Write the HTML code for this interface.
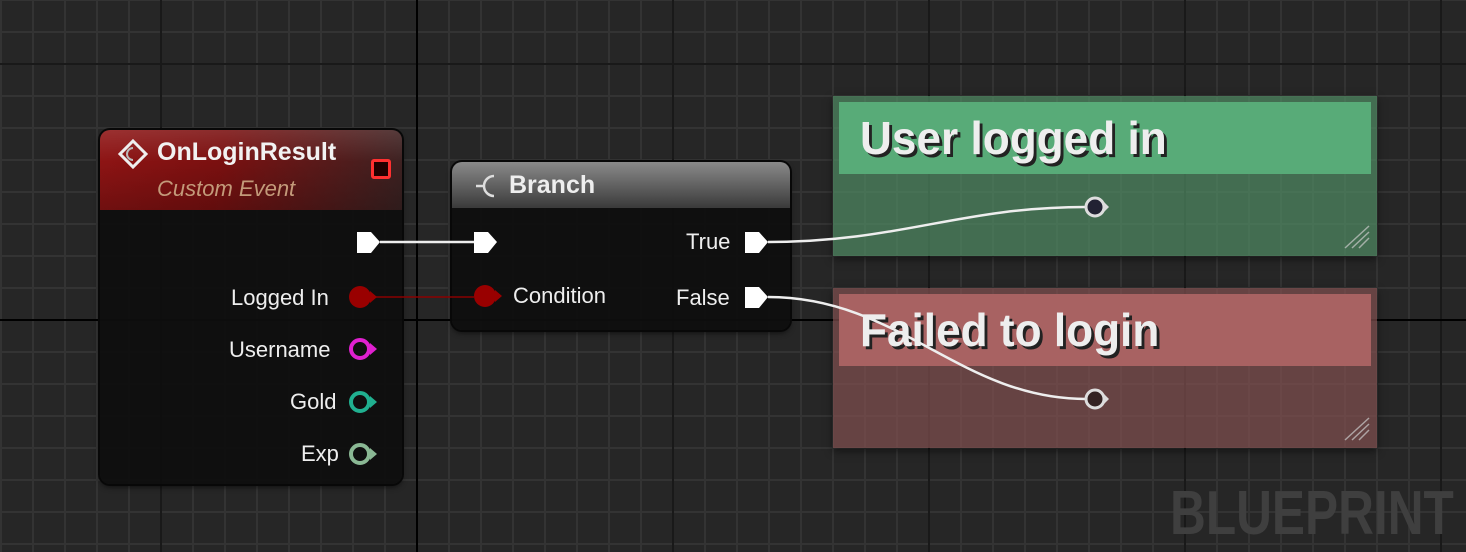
<!DOCTYPE html>
<html><head><meta charset="utf-8"><style>
body{margin:0;width:1466px;height:552px;overflow:hidden;background:#262626;font-family:"Liberation Sans",sans-serif;position:relative}
.grid{position:absolute;inset:0;
background-image:
linear-gradient(to right,#000 0 2px,transparent 2px),
linear-gradient(to bottom,#000 0 2px,transparent 2px),
linear-gradient(to right,#191919 0 2px,transparent 2px),
linear-gradient(to bottom,#191919 0 2px,transparent 2px),
linear-gradient(to right,#333 0 2px,transparent 2px),
linear-gradient(to bottom,#333 0 2px,transparent 2px);
background-size:2px 100%,100% 2px,256px 100%,100% 256px,32px 100%,100% 32px;
background-repeat:no-repeat,no-repeat,repeat-x,repeat-y,repeat-x,repeat-y;
background-position:416px 0,0 319px,160px 0,0 63px,0 0,0 31px}
.abs{position:absolute}
.node{position:absolute;background:rgba(14,14,14,.93);border-radius:10px;box-shadow:0 0 0 2px #080808,0 3px 6px rgba(0,0,0,.6)}
.lbl{position:absolute;color:#eee;font-size:22px;white-space:nowrap}
.cm{position:absolute}
.cm .t{position:absolute;left:6px;right:6px;top:6px;height:72px;font-weight:bold;font-size:46px;color:#eee;text-shadow:3px 3px 0 #222;padding-left:21px;line-height:72px;box-sizing:border-box}
.cm .t span{display:inline-block;transform:scaleX(.96);transform-origin:left}
</style></head><body>
<div class="grid"></div>

<div class="cm" style="left:833px;top:96px;width:544px;height:160px;background:rgba(80,140,100,.7);box-shadow:0 3px 8px rgba(0,0,0,.5)">
 <div class="t" style="background:#58ab78"><span>User logged in</span></div>
</div>
<div class="cm" style="left:833px;top:288px;width:544px;height:160px;background:rgba(130,80,80,.7);box-shadow:0 3px 8px rgba(0,0,0,.5)">
 <div class="t" style="background:#a86262"><span>Failed to login</span></div>
</div>

<div class="node" style="left:100px;top:130px;width:302px;height:354px;overflow:hidden">
 <div class="abs" style="left:0;top:0;width:302px;height:80px;background:linear-gradient(100deg,#8e1414 0%,#7a1010 40%,#3a2222 100%)"></div>
 <div class="abs" style="left:0;top:0;width:302px;height:80px;background:linear-gradient(to bottom,rgba(255,255,255,.12),transparent 40%,rgba(0,0,0,.2))"></div>
 <div class="lbl" style="left:57px;top:8px;font-weight:bold;font-size:25px;color:#f2f2f2">OnLoginResult</div>
 <div class="lbl" style="left:57px;top:46px;font-style:italic;font-size:22px;color:#c39a7a">Custom Event</div>
 <div class="abs" style="left:271px;top:29px;width:14px;height:14px;border:3px solid #ff3030;border-radius:3px;background:#200"></div>
</div>
<svg class="abs" style="left:0;top:0" width="1466" height="552">
 <g transform="translate(133,154)"><path d="M0,-13 L13,0 L0,13 L-13,0Z" fill="none" stroke="#eee" stroke-width="3"/><path d="M0,-6 A6,6 0 1 0 0,6" fill="none" stroke="#bbb" stroke-width="2"/></g>
</svg>
<div class="lbl" style="left:231px;top:285px">Logged In</div>
<div class="lbl" style="left:229px;top:337px">Username</div>
<div class="lbl" style="left:290px;top:389px">Gold</div>
<div class="lbl" style="left:301px;top:441px">Exp</div>

<div class="node" style="left:452px;top:162px;width:338px;height:168px;overflow:hidden">
 <div class="abs" style="left:0;top:0;width:338px;height:46px;background:linear-gradient(to bottom,#8a8a8a,#5a5a5a 60%,#3a3a3a)"></div>
 <div class="lbl" style="left:57px;top:9px;font-weight:bold;font-size:25px">Branch</div>
</div>
<div class="lbl" style="left:513px;top:283px">Condition</div>
<div class="lbl" style="left:686px;top:229px">True</div>
<div class="lbl" style="left:676px;top:285px">False</div>

<svg class="abs" style="left:0;top:0" width="1466" height="552">
 <path d="M494,176 A10,10 0 1 0 494,196" fill="none" stroke="#ddd" stroke-width="2.5"/><path d="M484,186 h-8" stroke="#ddd" stroke-width="2.5"/>
 <path d="M380,242 L474,242" stroke="#eee" stroke-width="2.5"/>
 <path d="M372,297 L474,297" stroke="#8a0000" stroke-width="1.5"/>
 <path d="M768,242 C900,242 960,207 1086,207" fill="none" stroke="#eee" stroke-width="2.5"/>
 <path d="M768,297 C900,297 960,399 1086,399" fill="none" stroke="#eee" stroke-width="2.5"/>
 <g fill="#fff">
  <path d="M357,232 h14 l9,10 l-9,11 h-14z"/>
  <path d="M474,232 h14 l9,10 l-9,11 h-14z"/>
  <path d="M745,232 h14 l9,10 l-9,11 h-14z"/>
  <path d="M745,287 h14 l9,10 l-9,11 h-14z"/>
 </g>
 <circle cx="360" cy="297" r="11" fill="#990000"/><path d="M370,291 l7,6 l-7,6z" fill="#990000"/>
 <circle cx="485" cy="296" r="11" fill="#990000"/><path d="M495,290 l7,6 l-7,6z" fill="#990000"/>
 <circle cx="360" cy="349" r="9" fill="none" stroke="#e020d0" stroke-width="4"/><path d="M370,343 l7,6 l-7,6z" fill="#e020d0"/>
 <circle cx="360" cy="402" r="9" fill="none" stroke="#20b090" stroke-width="4"/><path d="M370,396 l7,6 l-7,6z" fill="#20b090"/>
 <circle cx="360" cy="454" r="9" fill="none" stroke="#8ab894" stroke-width="4"/><path d="M370,448 l7,6 l-7,6z" fill="#8ab894"/>
 <circle cx="1095" cy="207" r="9" fill="#223" stroke="#ddd" stroke-width="3"/><path d="M1104,202 l5,5 l-5,5z" fill="#ddd"/>
 <circle cx="1095" cy="399" r="9" fill="#322" stroke="#ddd" stroke-width="3"/><path d="M1104,394 l5,5 l-5,5z" fill="#ddd"/>
 <g stroke="#ccc" stroke-width="1.5" opacity=".7">
  <path d="M1345,248 L1369,226 M1352,248 L1369,232 M1359,248 L1369,238"/>
  <path d="M1345,440 L1369,418 M1352,440 L1369,424 M1359,440 L1369,430"/>
 </g>
</svg>

<div class="abs" style="left:1170px;top:481px;font-size:62px;font-weight:bold;color:#3f3f3f;line-height:66px;transform:scaleX(.8);transform-origin:left top;white-space:nowrap">BLUEPRINT</div>
</body></html>
